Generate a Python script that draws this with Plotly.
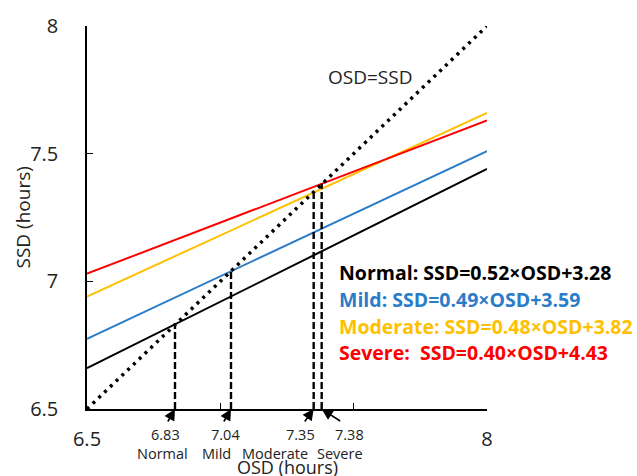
import plotly.graph_objects as go

# ---- data ----
groups = ["Normal", "Mild", "Moderate", "Severe"]
slopes = [0.52, 0.49, 0.48, 0.40]
intercepts = [3.28, 3.59, 3.82, 4.43]
colors = ["#000000", "#2B7CC8", "#FFC000", "#FF0000"]
cross_x = [6.83, 7.04, 7.35, 7.38]
cross_labels = ["6.83", "7.04", "7.35", "7.38"]
x_range = [6.5, 8.0]
y_range = [6.5, 8.0]
y_tickvals = [6.5, 7, 7.5, 8]
y_ticktext = ["6.5", "7", "7.5", "8"]
x_tickvals = [6.5, 7, 7.5, 8]
x_ticktext = ["6.5", "", "", "8"]

FONT = "Open Sans"

fig = go.Figure()

# regression lines
for g, m, b, c in zip(groups, slopes, intercepts, colors):
    fig.add_trace(go.Scatter(
        x=x_range, y=[m * x_range[0] + b, m * x_range[1] + b],
        mode="lines", line=dict(color=c, width=2), name=g, showlegend=False,
        hoverinfo="skip"))

# identity line OSD=SSD
fig.add_trace(go.Scatter(
    x=x_range, y=y_range, mode="lines",
    line=dict(color="black", width=3.5, dash="3px,5px"), showlegend=False,
    hoverinfo="skip"))

# dashed verticals at intersections
for xi, m, b in zip(cross_x, slopes, intercepts):
    fig.add_trace(go.Scatter(
        x=[xi, xi], y=[y_range[0], m * xi + b], mode="lines",
        line=dict(color="black", width=2.4, dash="7px,3px"), showlegend=False,
        hoverinfo="skip"))

annotations = []

# arrows pointing to the x positions
arrow_off = [(-8, 14), (-8, 14), (-10, 14), (20, 13)]
num_shift = [-10, -6, -13, 28]
name_shift = [-13, -15, -39, 18]
for xi, lab, g, (ax, ay), ns, gs in zip(cross_x, cross_labels, groups, arrow_off, num_shift, name_shift):
    annotations.append(dict(
        x=xi, y=y_range[0], xref="x", yref="y", text="", showarrow=True,
        ax=ax, ay=ay, arrowhead=2, arrowsize=1.4, arrowwidth=1.6,
        arrowcolor="black", standoff=0))
    annotations.append(dict(
        x=xi, y=y_range[0], xref="x", yref="y", text=lab, showarrow=False,
        xshift=ns, yshift=-25, font=dict(family=FONT, size=14.5, color="#222")))
    annotations.append(dict(
        x=xi, y=y_range[0], xref="x", yref="y", text=g, showarrow=False,
        xshift=gs, yshift=-44, font=dict(family=FONT, size=14.5, color="#222")))

# equations
eq_y = [7.035, 6.93, 6.825, 6.72]
for g, m, b, c, yy in zip(groups, slopes, intercepts, colors, eq_y):
    sep = ":\u00a0\u00a0" if g == "Severe" else ": "
    annotations.append(dict(
        x=7.4375, y=yy, xref="x", yref="y", xanchor="left", yanchor="middle",
        text=f"<b>{g}{sep}SSD={m:.2f}×OSD+{b:.2f}</b>", showarrow=False,
        font=dict(family=FONT, size=19.5, color=c)))

# OSD=SSD label
annotations.append(dict(
    x=7.56, y=7.80, xref="x", yref="y", text="OSD=SSD", showarrow=False,
    font=dict(family=FONT, size=19, color="#222")))

# axis titles
annotations.append(dict(
    x=0.5, y=0, xref="paper", yref="paper", text="OSD (hours)", showarrow=False,
    yanchor="middle", yshift=-58, font=dict(family=FONT, size=18, color="#222")))
annotations.append(dict(
    x=0, y=0.5, xref="paper", yref="paper", text="SSD (hours)", showarrow=False,
    xanchor="center", yanchor="middle",
    xshift=-65, textangle=-90, font=dict(family=FONT, size=19, color="#222")))

fig.update_layout(
    width=637, height=476,
    margin=dict(l=87, r=150, t=19, b=67),
    plot_bgcolor="white", paper_bgcolor="white",
    annotations=annotations,
    xaxis=dict(range=x_range, showgrid=False, zeroline=False, showline=True,
               linecolor="black", linewidth=1.5, ticks="inside", ticklen=6,
               tickcolor="black", tickvals=x_tickvals, ticktext=x_ticktext,
               tickfont=dict(family=FONT, size=20, color="#222"),
               ticklabelstandoff=11),
    yaxis=dict(range=y_range, showgrid=False, zeroline=False, showline=True,
               linecolor="black", linewidth=1.5, ticks="inside", ticklen=6,
               tickcolor="black", tickvals=y_tickvals, ticktext=y_ticktext,
               tickfont=dict(family=FONT, size=20, color="#222"),
               ticklabelstandoff=23),
)

fig.write_html("out.html")
